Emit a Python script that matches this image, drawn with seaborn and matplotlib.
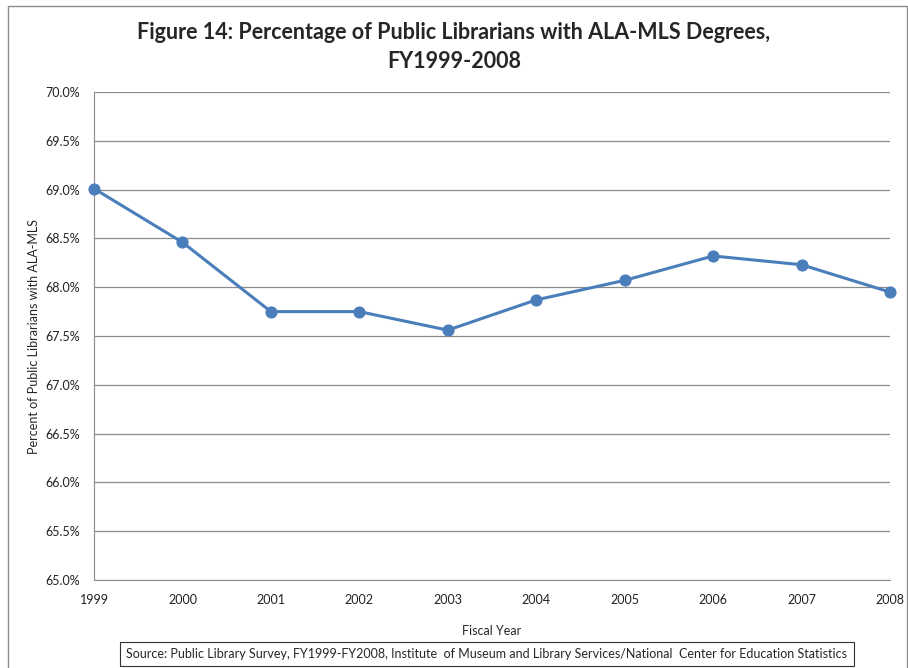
import matplotlib
matplotlib.use("Agg")
import matplotlib.pyplot as plt
import seaborn as sns
import pandas as pd
from matplotlib.patches import Rectangle

# values
years = [1999, 2000, 2001, 2002, 2003, 2004, 2005, 2006, 2007, 2008]
pct_mls = [69.01, 68.46, 67.75, 67.75, 67.56, 67.87, 68.07, 68.32, 68.23, 67.95]
y_ticks = [65.0, 65.5, 66.0, 66.5, 67.0, 67.5, 68.0, 68.5, 69.0, 69.5, 70.0]

df = pd.DataFrame({"year": years, "pct": pct_mls})

sns.set_style("white")
plt.rcParams['font.family'] = ['Lato', 'DejaVu Sans']

fig = plt.figure(figsize=(9.08, 6.68), dpi=100)
ax = fig.add_axes([94 / 908, 1 - 580 / 668, (890 - 94) / 908, (580 - 92) / 668])

sns.lineplot(data=df, x="year", y="pct", ax=ax, color="#4a7ebb", linewidth=2.2,
             marker="o", markersize=8, markeredgecolor="#4a7ebb", clip_on=False, zorder=5)

ax.set_xlim(1999, 2008)
ax.set_ylim(65.0, 70.0)
ax.set_yticks(y_ticks)
ax.set_yticklabels([f"{v:.1f}%" for v in y_ticks], fontsize=9)
ax.set_xticks(years)
ax.set_xticklabels([str(y) for y in years], fontsize=9)
ax.yaxis.grid(True, color="#8c8c8c", linewidth=0.9)
ax.xaxis.grid(False)
for s in ["top", "right"]:
    ax.spines[s].set_visible(False)
for s in ["left", "bottom"]:
    ax.spines[s].set_color("#8c8c8c")
ax.tick_params(axis="both", direction="out", length=4, color="#8c8c8c", pad=6, labelcolor="#222222")
ax.set_xlabel("Fiscal Year", fontsize=9, labelpad=14)
ax.set_ylabel("Percent of Public Librarians with ALA-MLS", fontsize=9, labelpad=4)

fig.text(0.5, 1 - 47 / 668, "Figure 14: Percentage of Public Librarians with ALA-MLS Degrees,\nFY1999-2008",
         ha="center", va="center", fontsize=15.5, fontweight="bold", linespacing=1.45)

# outer chart border
fig.patches.append(Rectangle((8 / 908, -0.01), 0.99, 1 - 6 / 668 + 0.01, transform=fig.transFigure,
                             fill=False, edgecolor="#8c8c8c", linewidth=1))

# source box
fig.text(487 / 908, 1 - 654 / 668,
         "Source: Public Library Survey, FY1999-FY2008, Institute  of Museum and Library Services/National  Center for Education Statistics",
         ha="center", va="center", fontsize=9,
         bbox=dict(boxstyle="square,pad=0.5", facecolor="white", edgecolor="#333333", linewidth=0.8))

fig.savefig("out.png", dpi=100)
